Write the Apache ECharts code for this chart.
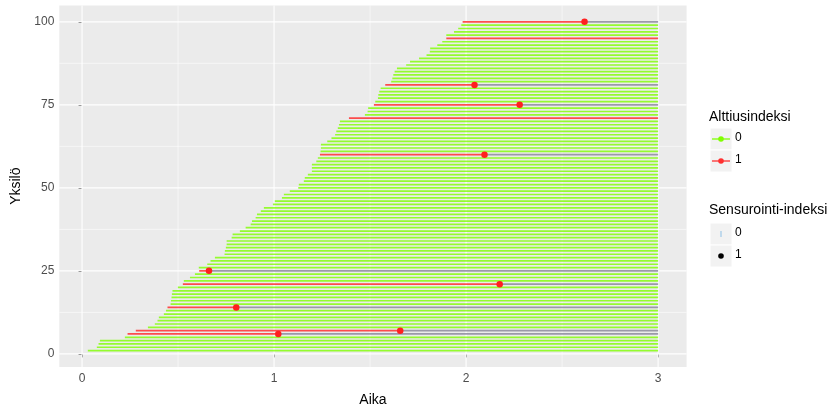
<!DOCTYPE html>
<html>
<head>
<meta charset="utf-8">
<script src="https://cdn.jsdelivr.net/npm/echarts@6/dist/echarts.min.js"></script>
<style>
html,body{margin:0;padding:0;background:#fff;}
#chart{width:834px;height:412px;}
</style>
</head>
<body>
<div id="chart"></div>
<script>
// Entry time for each subject (subject number = position + 1)
const startTimes = [
  0.030, 0.077, 0.086, 0.093, 0.223, 0.237, 0.280, 0.343, 0.379, 0.393,
  0.400, 0.426, 0.437, 0.445, 0.461, 0.463, 0.466, 0.468, 0.471, 0.499,
  0.525, 0.530, 0.562, 0.588, 0.610, 0.608, 0.652, 0.669, 0.692, 0.742,
  0.744, 0.749, 0.753, 0.753, 0.779, 0.784, 0.822, 0.852, 0.878, 0.885,
  0.904, 0.911, 0.931, 0.947, 0.994, 1.004, 1.041, 1.051, 1.082, 1.126,
  1.129, 1.155, 1.160, 1.176, 1.197, 1.197, 1.197, 1.220, 1.228, 1.239,
  1.242, 1.244, 1.244, 1.277, 1.299, 1.318, 1.324, 1.332, 1.338, 1.343,
  1.390, 1.473, 1.487, 1.490, 1.520, 1.527, 1.541, 1.543, 1.548, 1.555,
  1.579, 1.610, 1.616, 1.621, 1.628, 1.640, 1.688, 1.708, 1.755, 1.794,
  1.811, 1.813, 1.850, 1.876, 1.897, 1.897, 1.937, 1.959, 1.975, 1.982
];
// Subjects with exposure index 1 and their event times (null = censored at end)
const exposedSubjects = [6, 7, 14, 21, 25, 60, 71, 75, 81, 95, 100];
const eventTimes      = [1.022, 1.657, 0.803, 2.175, 0.661, 2.096, null, 2.279, 2.044, null, 2.617];
const followUpEnd = 3;
const xTickValues = [0, 1, 2, 3];
const yTickValues = [0, 25, 50, 75, 100];
const xMinorValues = [0.5, 1.5, 2.5];
const yMinorValues = [12.5, 37.5, 62.5, 87.5];
const legend1Title = 'Alttiusindeksi';
const legend1Labels = ['0', '1'];
const legend2Title = 'Sensurointi-indeksi';
const legend2Labels = ['0', '1'];

const greenSeg = [], redSeg = [], greySeg = [], eventPts = [];
startTimes.forEach((s, i) => {
  const id = i + 1;
  const j = exposedSubjects.indexOf(id);
  if (j < 0) {
    greenSeg.push([s, followUpEnd, id]);
  } else {
    const ev = eventTimes[j];
    if (ev == null) {
      redSeg.push([s, followUpEnd, id]);
    } else {
      redSeg.push([s, ev, id]);
      greySeg.push([ev, followUpEnd, id]);
      eventPts.push([ev, id]);
    }
  }
});

const GREEN = '#7fff00', RED = '#ff3030', GREY = '#9696a4';
const X_MIN = -0.1185, X_MAX = 3.1485, Y_MIN = -3.95, Y_MAX = 104.95;

function segRenderer(color, width, opacity) {
  return function (params, api) {
    const p1 = api.coord([api.value(0), api.value(2)]);
    const p2 = api.coord([api.value(1), api.value(2)]);
    return {
      type: 'line',
      shape: { x1: p1[0], y1: p1[1], x2: p2[0], y2: p2[1] },
      style: { stroke: color, lineWidth: width, opacity: opacity }
    };
  };
}

function gridRenderer(params, api) {
  const children = [];
  const addX = (v, w) => {
    const a = api.coord([v, Y_MIN]), b = api.coord([v, Y_MAX]);
    children.push({ type: 'line', shape: { x1: a[0], y1: a[1], x2: b[0], y2: b[1] }, style: { stroke: '#fff', lineWidth: w } });
  };
  const addY = (v, w) => {
    const a = api.coord([X_MIN, v]), b = api.coord([X_MAX, v]);
    children.push({ type: 'line', shape: { x1: a[0], y1: a[1], x2: b[0], y2: b[1] }, style: { stroke: '#fff', lineWidth: w } });
  };
  xMinorValues.forEach(v => addX(v, 0.55));
  yMinorValues.forEach(v => addY(v, 0.55));
  xTickValues.forEach(v => addX(v, 1.1));
  yTickValues.forEach(v => addY(v, 1.1));
  return { type: 'group', children: children };
}

const chart = echarts.init(document.getElementById('chart'), null, { renderer: 'canvas' });
const FONT = '"Liberation Sans", Arial, sans-serif';

// legend graphics
const lg = [];
const kx = 710, kw = 22;
lg.push({ type: 'text', left: 709, top: 110, style: { text: legend1Title, font: '14px ' + FONT, fill: '#000' } });
[[128, GREEN], [150, RED]].forEach((d, i) => {
  lg.push({ type: 'rect', shape: { x: kx, y: d[0], width: kw, height: kw }, style: { fill: '#f2f2f2', stroke: '#fff', lineWidth: 1 } });
  lg.push({ type: 'line', shape: { x1: kx + 2, y1: d[0] + 11, x2: kx + kw - 2, y2: d[0] + 11 }, style: { stroke: d[1], lineWidth: 1.6, opacity: 0.8 } });
  lg.push({ type: 'circle', shape: { cx: kx + 11, cy: d[0] + 11, r: 2.8 }, style: { fill: d[1] } });
  lg.push({ type: 'text', left: 735, top: d[0] + 4, style: { text: legend1Labels[i], font: '12px ' + FONT, fill: '#000' } });
});
lg.push({ type: 'text', left: 709, top: 203, style: { text: legend2Title, font: '14px ' + FONT, fill: '#000' } });
[223, 245].forEach((y, i) => {
  lg.push({ type: 'rect', shape: { x: kx, y: y, width: kw, height: kw }, style: { fill: '#f2f2f2', stroke: '#fff', lineWidth: 1 } });
  if (i === 0) {
    lg.push({ type: 'line', shape: { x1: kx + 11, y1: y + 8, x2: kx + 11, y2: y + 14 }, style: { stroke: '#9ec8e8', lineWidth: 1.2 } });
  } else {
    lg.push({ type: 'circle', shape: { cx: kx + 11, cy: y + 11, r: 2.8 }, style: { fill: '#000' } });
  }
  lg.push({ type: 'text', left: 735, top: y + 4, style: { text: legend2Labels[i], font: '12px ' + FONT, fill: '#000' } });
});

chart.setOption({
  animation: false,
  backgroundColor: '#ffffff',
  textStyle: { fontFamily: FONT },
  grid: { left: 59.3, right: 834 - 686.6, top: 5.4, bottom: 412 - 370.2, containLabel: false,
          show: true, backgroundColor: '#ebebeb', borderWidth: 0 },
  xAxis: {
    type: 'value', min: X_MIN, max: X_MAX,
    name: 'Aika', nameLocation: 'middle', nameGap: 26,
    nameTextStyle: { fontSize: 14, color: '#000', fontFamily: FONT },
    axisLine: { show: false },
    axisTick: { show: true, length: 3.5, lineStyle: { color: '#333', width: 1 }, customValues: xTickValues },
    axisLabel: { color: '#4d4d4d', fontSize: 12, margin: 6, customValues: xTickValues, fontFamily: FONT },
    splitLine: { show: false }
  },
  yAxis: {
    type: 'value', min: Y_MIN, max: Y_MAX,
    name: 'Yksilö', nameLocation: 'middle', nameGap: 28, nameRotate: 90,
    nameTextStyle: { fontSize: 14, color: '#000', fontFamily: FONT },
    axisLine: { show: false },
    axisTick: { show: true, length: 3.5, lineStyle: { color: '#333', width: 1 }, customValues: yTickValues },
    axisLabel: { color: '#4d4d4d', fontSize: 12, margin: 5, customValues: yTickValues, fontFamily: FONT },
    splitLine: { show: false }
  },
  graphic: lg,
  series: [
    { type: 'custom', z: 1, data: [[0, 0]], renderItem: gridRenderer, silent: true },
    { type: 'custom', z: 2, data: greenSeg, encode: { x: [0, 1], y: 2 }, renderItem: segRenderer(GREEN, 1.7, 0.8), silent: true },
    { type: 'custom', z: 3, data: redSeg, encode: { x: [0, 1], y: 2 }, renderItem: segRenderer(RED, 1.7, 0.85), silent: true },
    { type: 'custom', z: 3, data: greySeg, encode: { x: [0, 1], y: 2 }, renderItem: segRenderer(GREY, 1.7, 0.95), silent: true },
    { type: 'scatter', z: 4, data: eventPts, symbol: 'circle', symbolSize: 6.5, itemStyle: { color: '#ff2020', opacity: 1 }, silent: true }
  ]
});
</script>
</body>
</html>
